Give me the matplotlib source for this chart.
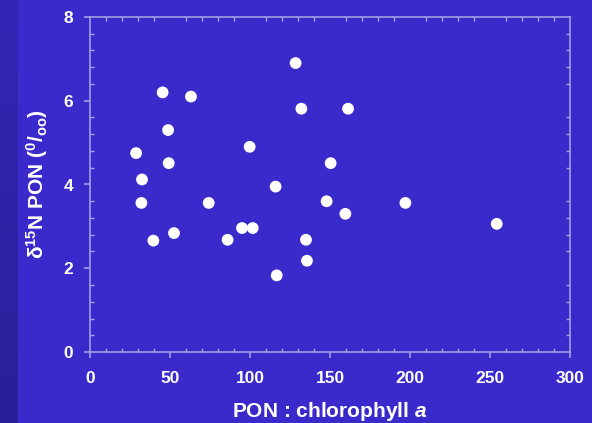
import numpy as np
import matplotlib
matplotlib.use("Agg")
import matplotlib.pyplot as plt
from matplotlib.ticker import MultipleLocator
from matplotlib.colors import LinearSegmentedColormap

# PON : chlorophyll a ratio and d15N of PON for each sample
pon_chl = [128.5, 45.4, 63.1, 132.1, 161.3, 48.8, 99.8, 28.8, 49.2, 150.4,
           32.5, 116.0, 32.1, 74.2, 147.9, 159.6, 39.6, 52.5, 86.0, 95.0,
           101.7, 135.0, 135.6, 116.7, 197.1, 254.2]
d15n = [6.90, 6.20, 6.10, 5.81, 5.81, 5.30, 4.90, 4.75, 4.51, 4.51,
        4.12, 3.95, 3.56, 3.56, 3.60, 3.30, 2.66, 2.84, 2.68, 2.96,
        2.96, 2.68, 2.18, 1.83, 3.56, 3.06]

x_ticks = [0, 50, 100, 150, 200, 250, 300]
y_ticks = [0, 2, 4, 6, 8]

bg = "#3A29CB"
spine_col = "#A9A6E6"

plt.rcParams["font.family"] = ["Liberation Sans", "DejaVu Sans"]
plt.rcParams["font.weight"] = "bold"
plt.rcParams["mathtext.fontset"] = "custom"
plt.rcParams["mathtext.rm"] = "Liberation Sans:bold"
plt.rcParams["mathtext.it"] = "Liberation Sans:bold:italic"
plt.rcParams["mathtext.bf"] = "Liberation Sans:bold"

fig = plt.figure(figsize=(5.92, 4.23), dpi=100, facecolor=bg)

# darker shaded strip along the left edge
strip = fig.add_axes([0, 0, 18 / 592, 1])
grad = np.linspace(0, 1, 256).reshape(-1, 1)
cmap = LinearSegmentedColormap.from_list("strip", ["#3327B6", "#2A1F98"])
strip.imshow(grad, aspect="auto", cmap=cmap, extent=[0, 1, 0, 1], origin="upper")
strip.set_axis_off()

ax = fig.add_axes([90 / 592, 71 / 423, 480 / 592, 335 / 423])
ax.set_facecolor(bg)
ax.scatter(pon_chl, d15n, s=72, color="white", edgecolors="none", zorder=3)

ax.set_xlim(0, 300)
ax.set_ylim(0, 8)
ax.set_xticks(x_ticks)
ax.set_yticks(y_ticks)
ax.xaxis.set_minor_locator(MultipleLocator(10))
ax.yaxis.set_minor_locator(MultipleLocator(0.4))

for s in ax.spines.values():
    s.set_color(spine_col)
    s.set_linewidth(1.1)

ax.tick_params(which="major", direction="out", length=4, width=1.1,
               color=spine_col, labelcolor="white", labelsize=12.5,
               top=False, right=False)
ax.tick_params(axis="x", which="major", pad=10)
ax.tick_params(axis="y", which="major", pad=8)
ax.tick_params(which="minor", direction="in", length=3, width=1.0,
               color=spine_col, top=True, right=True, bottom=True, left=True)
for lab in ax.get_xticklabels() + ax.get_yticklabels():
    lab.set_fontweight("bold")

ax.set_xlabel("PON : chlorophyll $a$", color="white", fontsize=15,
              fontweight="bold", labelpad=10)
ax.set_ylabel(r"δ$^{\mathrm{15}}$N PON ($^{\mathrm{0}}$/$_{\mathrm{oo}}$)",
              color="white", fontsize=15, fontweight="bold", labelpad=10)

fig.savefig("out.png", dpi=100, facecolor=bg)
